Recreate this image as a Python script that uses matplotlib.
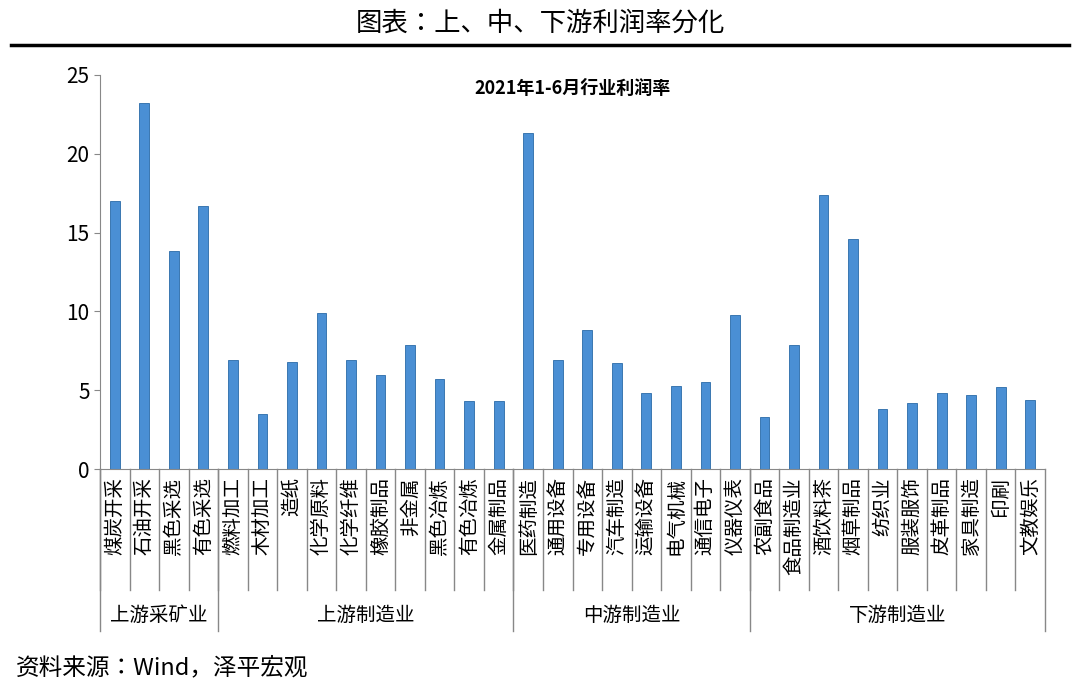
import matplotlib.pyplot as plt
from matplotlib.lines import Line2D
from matplotlib import font_manager

# pick whichever CJK family is registered
names = {f.name for f in font_manager.fontManager.ttflist}
cjk = [n for n in ['Noto Sans CJK SC', 'Noto Sans CJK JP', 'Noto Sans CJK TC', 'Noto Sans CJK KR'] if n in names]
plt.rcParams['font.family'] = cjk + ['DejaVu Sans']

industries = ['煤炭开采', '石油开采', '黑色采选', '有色采选',
              '燃料加工', '木材加工', '造纸', '化学原料', '化学纤维', '橡胶制品', '非金属', '黑色冶炼', '有色冶炼', '金属制品',
              '医药制造', '通用设备', '专用设备', '汽车制造', '运输设备', '电气机械', '通信电子', '仪器仪表',
              '农副食品', '食品制造业', '酒饮料茶', '烟草制品', '纺织业', '服装服饰', '皮革制品', '家具制造', '印刷', '文教娱乐']
margins = [17.0, 23.2, 13.8, 16.7,
           6.9, 3.5, 6.8, 9.9, 6.9, 6.0, 7.9, 5.7, 4.3, 4.3,
           21.3, 6.9, 8.8, 6.7, 4.8, 5.3, 5.5, 9.8,
           3.3, 7.9, 17.4, 14.6, 3.8, 4.2, 4.8, 4.7, 5.2, 4.4]
groups = ['上游采矿业', '上游制造业', '中游制造业', '下游制造业']
group_sizes = [4, 10, 8, 10]

fig = plt.figure(figsize=(10.8, 6.92), dpi=100)
ax = fig.add_axes([0.0926, 0.322, 0.875, 0.57])

x = list(range(len(industries)))
ax.bar(x, margins, width=0.33, color='#4a8fd4', edgecolor='#2a6aa8', linewidth=0.6)
ax.set_xlim(-0.5, len(industries) - 0.5)
ax.set_ylim(0, 25)
ax.set_yticks([0, 5, 10, 15, 20, 25])
ax.tick_params(axis='y', labelsize=15, direction='out', length=4, color='#888888')
ax.spines['top'].set_visible(False)
ax.spines['right'].set_visible(False)
ax.spines['left'].set_color('#888888')
ax.spines['bottom'].set_color('#888888')
ax.set_xticks([])
ax.set_title('2021年1-6月行业利润率', fontsize=13, fontweight='bold', y=0.93)

trans = ax.get_xaxis_transform()
for i, name in enumerate(industries):
    ax.text(i, -0.02, name, rotation=90, ha='center', va='top', fontsize=14,
            transform=trans)

# separators between categories and groups
y_cat = -0.306
y_bot = -0.41
for i in x:
    ax.add_line(Line2D([i - 0.5, i - 0.5], [0, y_cat], transform=trans, color='#888888', lw=1, clip_on=False))
bounds = [-0.5]
for s in group_sizes:
    bounds.append(bounds[-1] + s)
for b in bounds:
    ax.add_line(Line2D([b, b], [0, y_bot], transform=trans, color='#888888', lw=1, clip_on=False))
for g, a, b in zip(groups, bounds[:-1], bounds[1:]):
    ax.text((a + b) / 2, -0.372, g, ha='center', va='center', fontsize=14, transform=trans)

fig.text(0.5, 0.967, '图表：上、中、下游利润率分化', ha='center', va='center', fontsize=19)
fig.add_artist(Line2D([0.01, 0.99], [0.935, 0.935], color='black', lw=2.5))
fig.text(0.015, 0.035, '资料来源：Wind，泽平宏观', ha='left', va='center', fontsize=17, style='italic')

fig.savefig('out.png', dpi=100)
